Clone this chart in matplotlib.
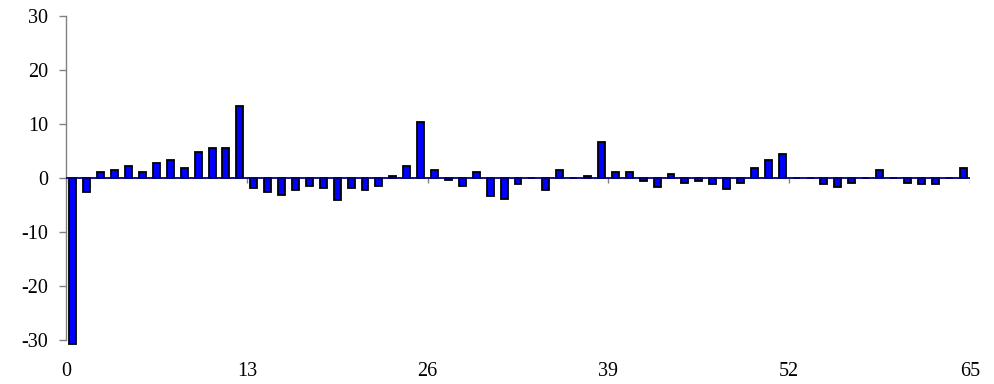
import matplotlib
matplotlib.use("Agg")
import matplotlib.pyplot as plt
import numpy as np

values = [-30.8, -2.6, 1.2, 1.5, 2.3, 1.2, 2.7, 3.4, 1.9, 4.9, 5.6, 5.6, 13.3,
          -1.9, -2.6, -3.1, -2.3, -1.5, -1.9, -4.1, -1.9, -2.3, -1.5, 0.4, 2.2, 10.3,
          1.5, -0.4, -1.5, 1.2, -3.4, -3.8, -1.2, 0.0, -2.3, 1.5, 0.0, 0.4, 6.7,
          1.2, 1.2, -0.5, -1.6, 0.8, -0.9, -0.5, -1.2, -2.0, -0.9, 1.9, 3.4, 4.5,
          0.0, 0.0, -1.2, -1.6, -0.9, 0.0, 1.5, 0.0, -0.9, -1.2, -1.2, 0.0, 1.9]
xtick_labels = ["0", "13", "26", "39", "52", "65"]
ytick_values = [-30, -20, -10, 0, 10, 20, 30]

plt.rcParams['font.family'] = ['Liberation Serif', 'DejaVu Serif']

fig = plt.figure(figsize=(9.95, 3.84), dpi=100)
ax = fig.add_axes([66/995, 1-340/384, (970-66)/995, (340-16)/384])

n = len(values)
pos = np.arange(n) + 0.5
ax.bar(pos, values, width=0.5, color='#0000FF', edgecolor='black',
       linewidth=1.3, clip_on=False, zorder=3)

ax.set_xlim(0, n)
ax.set_ylim(-30, 30)

ax.axhline(0, color='#000080', linewidth=1.3, zorder=4)
tick_pos = [int(t) for t in xtick_labels]
ax.vlines(tick_pos, -0.95, 0, color='#808080', linewidth=1.0, zorder=2)

for s in ['top', 'right', 'bottom']:
    ax.spines[s].set_visible(False)
ax.spines['left'].set_color('#808080')
ax.spines['left'].set_linewidth(1.0)

ax.set_yticks(ytick_values)
ax.set_yticklabels([str(v) for v in ytick_values])
ax.tick_params(axis='y', direction='out', length=5, width=1.0, color='#808080',
               pad=8, labelsize=14.5, labelcolor='black')
ax.set_xticks(tick_pos)
ax.set_xticklabels(xtick_labels)
ax.tick_params(axis='x', length=0, pad=16, labelsize=14.5, labelcolor='black')

fig.savefig("out.png", dpi=100, facecolor='white')
